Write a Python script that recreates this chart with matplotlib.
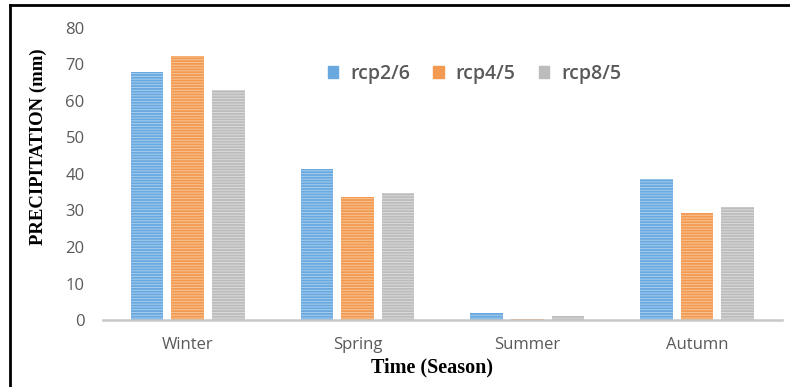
import matplotlib
matplotlib.use("Agg")
import matplotlib.pyplot as plt
from matplotlib.lines import Line2D
import numpy as np

seasons = ["Winter", "Spring", "Summer", "Autumn"]
scenarios = ["rcp2/6", "rcp4/5", "rcp8/5"]
rcp26 = [68.0, 41.4, 2.0, 38.6]
rcp45 = [72.4, 33.8, 0.3, 29.3]
rcp85 = [63.0, 34.9, 1.0, 31.0]

face_colors = ["#6aa9e0", "#f39a52", "#bcbcbc"]
stripe_colors = ["#a6cdef", "#f8c495", "#dadada"]

plt.rcParams["hatch.linewidth"] = 0.7

fig = plt.figure(figsize=(7.9, 3.87), dpi=100)
ax = fig.add_axes([0.130, 0.173, 0.860, 0.755])

x = np.arange(len(seasons))
width = 0.192
step = 0.239
for i, vals in enumerate([rcp26, rcp45, rcp85]):
    ax.bar(x + (i - 1) * step, vals, width=width, color=face_colors[i],
           edgecolor=stripe_colors[i], linewidth=0, hatch="------",
           label=scenarios[i], zorder=2)

ax.set_xlim(-0.5, 3.5)
ax.set_ylim(0, 80)
ax.set_yticks(np.arange(0, 81, 10))
ax.set_xticks(x)
ax.set_xticklabels(seasons)
ax.tick_params(length=0, labelsize=12, labelcolor="#595959")
ax.tick_params(axis="y", pad=13)
ax.tick_params(axis="x", pad=12)
for lbl in ax.get_xticklabels() + ax.get_yticklabels():
    lbl.set_family("Open Sans")

for side in ["top", "right", "left"]:
    ax.spines[side].set_visible(False)
ax.spines["bottom"].set_color("#c8c8c8")
ax.spines["bottom"].set_linewidth(1.8)

# legend sits inside the plot, near the top
handles = [plt.Rectangle((0, 0), 1, 1, color=c) for c in face_colors]
ax.legend(handles, scenarios, loc="center", bbox_to_anchor=(0.547, 0.843),
          ncol=3, frameon=False, handlelength=0.55, handleheight=0.55,
          handletextpad=0.6, columnspacing=1.2,
          prop={"family": "Open Sans", "weight": "semibold", "size": 14},
          labelcolor="#595959")

fig.text(38 / 790, 1 - 147 / 387, "PRECIPITATION (mm)", rotation=90,
         ha="center", va="center", family="Liberation Serif",
         weight="bold", size=13.5)
fig.text(432 / 790, 1 - 367 / 387, "Time (Season)", ha="center", va="center",
         family="Liberation Serif", weight="bold", size=14.5)

# black frame on the left and top edges
fig.add_artist(Line2D([10 / 790, 10 / 790], [0, 1 - 5 / 387],
                      transform=fig.transFigure, color="black", lw=2))
fig.add_artist(Line2D([10 / 790, 1], [1 - 5 / 387, 1 - 5 / 387],
                      transform=fig.transFigure, color="black", lw=2))

fig.savefig("out.png", dpi=100)
